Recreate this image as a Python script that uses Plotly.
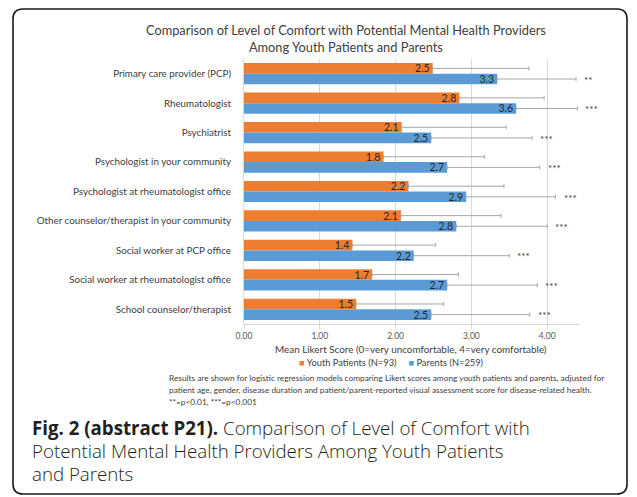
import plotly.graph_objects as go

categories = [
    "Primary care provider (PCP)",
    "Rheumatologist",
    "Psychiatrist",
    "Psychologist in your community",
    "Psychologist at rheumatologist office",
    "Other counselor/therapist in your community",
    "Social worker at PCP office",
    "Social worker at rheumatologist office",
    "School counselor/therapist",
]
youth_mean = [2.49, 2.84, 2.08, 1.84, 2.17, 2.07, 1.43, 1.69, 1.48]
youth_err = [1.27, 1.12, 1.38, 1.33, 1.26, 1.32, 1.10, 1.14, 1.15]
parent_mean = [3.34, 3.59, 2.47, 2.68, 2.93, 2.80, 2.24, 2.68, 2.47]
parent_err = [1.04, 0.81, 1.33, 1.22, 1.18, 1.20, 1.26, 1.19, 1.30]
signif = ["**", "***", "***", "***", "***", "***", "***", "***", "***"]
series_names = ["Youth Patients (N=93)", "Parents (N=259)"]
x_ticks = [0, 1, 2, 3, 4]

ORANGE = "#ED7D31"
BLUE = "#5B9BD5"
FONT = "Lato"

W_FIG, H_FIG = 637, 497
L, T, W, H = 244, 59, 335, 265


def px(x):
    return (x - L) / W


def py(y):
    return (T + H - y) / H


fig = go.Figure()
err_style = dict(type="data", symmetric=False, color="#a6a6a6", thickness=1, width=2)
for name, mean, err, col in [(series_names[0], youth_mean, youth_err, ORANGE),
                             (series_names[1], parent_mean, parent_err, BLUE)]:
    fig.add_trace(go.Bar(
        y=categories, x=mean, orientation="h", name=name,
        marker=dict(color=col, line=dict(width=0)),
        error_x=dict(array=err, arrayminus=[0] * len(err), **err_style),
        texttemplate="%{x:.1f}", textposition="inside", insidetextanchor="end",
        textangle=0, textfont=dict(family=FONT, size=10.5, color="#262626"),
    ))

annotations = []
for c, m, e, s in zip(categories, parent_mean, parent_err, signif):
    annotations.append(dict(
        x=m + e, y=c, xref="x", yref="y", text=s, showarrow=False,
        xanchor="left", yanchor="middle", xshift=6, yshift=-6,
        font=dict(family=FONT, size=10, color="#404040"),
    ))

# chart title
annotations.append(dict(
    x=px(346), y=py(38.5), xref="paper", yref="paper", showarrow=False,
    text="Comparison of Level of Comfort with Potential Mental Health Providers<br>Among Youth Patients and Parents",
    xanchor="center", yanchor="middle", align="center",
    font=dict(family=FONT, size=12.8, color="#404040"),
))
# axis title
annotations.append(dict(
    x=px(411), y=py(349), xref="paper", yref="paper", showarrow=False,
    text="Mean Likert Score (0=very uncomfortable, 4=very comfortable)",
    xanchor="center", yanchor="middle",
    font=dict(family=FONT, size=9.9, color="#404040"),
))
# legend (drawn as text with coloured squares)
legend_text = (
    f"<span style='color:{ORANGE}'>■</span> {series_names[0]}"
    f"     <span style='color:{BLUE}'>■</span> {series_names[1]}"
)
annotations.append(dict(
    x=px(391), y=py(362), xref="paper", yref="paper", showarrow=False,
    text=legend_text, xanchor="center", yanchor="middle",
    font=dict(family=FONT, size=9.3, color="#404040"),
))
# footnote
foot = [
    "Results are shown for logistic regression models comparing Likert scores among youth patients and parents, adjusted for",
    "patient age, gender, disease duration and patient/parent-reported visual assessment score for disease-related health.",
    "**=p<0.01, ***=p<0.001",
]
for i, line in enumerate(foot):
    annotations.append(dict(
        x=px(167), y=py(378 + 12 * i), xref="paper", yref="paper", showarrow=False,
        text=line, xanchor="left", yanchor="middle",
        font=dict(family=FONT, size=8.3, color="#404040"),
    ))
# caption
caption = [
    "<b>Fig. 2 (abstract P21).</b> Comparison of Level of Comfort with",
    "Potential Mental Health Providers Among Youth Patients",
    "and Parents",
]
for i, line in enumerate(caption):
    annotations.append(dict(
        x=px(30), y=py(427.5 + 23 * i), xref="paper", yref="paper", showarrow=False,
        text=line, xanchor="left", yanchor="middle",
        font=dict(family="Open Sans", size=18.7, color="#231f20", weight=300),
    ))

# rounded frame
x0, x1, y0, y1, r = 13, 627, 9, 494, 10
rx, ry = r / W, r / H
X0, X1, Y0, Y1 = px(x0), px(x1), py(y0), py(y1)
path = (
    f"M {X0+rx},{Y0} L {X1-rx},{Y0} Q {X1},{Y0} {X1},{Y0-ry} "
    f"L {X1},{Y1+ry} Q {X1},{Y1} {X1-rx},{Y1} "
    f"L {X0+rx},{Y1} Q {X0},{Y1} {X0},{Y1+ry} "
    f"L {X0},{Y0-ry} Q {X0},{Y0} {X0+rx},{Y0} Z"
)
shapes = [dict(type="path", path=path, xref="paper", yref="paper",
               line=dict(color="#1a1a1a", width=1.6), layer="above")]

fig.update_layout(
    width=W_FIG, height=H_FIG,
    margin=dict(l=L, r=W_FIG - L - W, t=T, b=H_FIG - T - H, pad=0),
    paper_bgcolor="white", plot_bgcolor="white",
    barmode="group", bargap=0.28, bargroupgap=0,
    showlegend=False,
    uniformtext=dict(minsize=10.5, mode="show"),
    annotations=annotations, shapes=shapes,
    font=dict(family=FONT),
)
fig.update_xaxes(
    range=[0, 4.42], tickvals=x_ticks, tickformat=".2f",
    showgrid=True, gridcolor="#d9d9d9", gridwidth=1, zeroline=False,
    showline=True, linecolor="#d9d9d9", ticks="outside", ticklen=4, tickcolor="#d9d9d9",
    tickfont=dict(family=FONT, size=8.5, color="#595959"),
)
fig.update_yaxes(
    autorange="reversed", showline=True, linecolor="#d9d9d9", showgrid=False,
    ticks="", ticklabelstandoff=10,
    tickfont=dict(family=FONT, size=9.8, color="#404040"),
)

fig.write_html("out.html")
